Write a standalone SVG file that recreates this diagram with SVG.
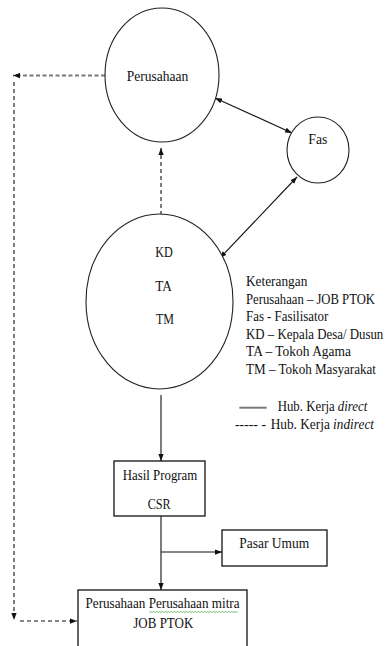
<svg xmlns="http://www.w3.org/2000/svg" width="386" height="646" viewBox="0 0 386 646" font-family="'Liberation Serif', 'DejaVu Serif', 'Times New Roman', serif">
<style>
text{font-family:'Liberation Serif','DejaVu Serif','Times New Roman',serif;font-size:14px;fill:#111}
.node{fill:#fff;stroke:#222;stroke-width:1.1}
.box{fill:#fff;stroke:#111;stroke-width:1.3}
.c{stroke:#111;stroke-width:1.1;fill:none}
.d{stroke:#111;stroke-width:1.1;fill:none;stroke-dasharray:4 3}
.g{stroke:#7a7a7a;stroke-width:2;fill:none;stroke-dasharray:4 2.5}
</style>
<defs>
<marker id="ah" viewBox="0 0 8 6" refX="8" refY="3" markerWidth="7" markerHeight="6" markerUnits="userSpaceOnUse" orient="auto-start-reverse">
<path d="M0,0 L8,3 L0,6 Z" fill="#111"/>
</marker>
</defs>
<g id="connectors">
<line class="c" x1="215" y1="98" x2="292" y2="133" marker-start="url(#ah)" marker-end="url(#ah)"/>
<line class="c" x1="297" y1="177" x2="220" y2="258" marker-start="url(#ah)" marker-end="url(#ah)"/>
<line class="d" x1="161" y1="148" x2="161" y2="225" marker-start="url(#ah)" marker-end="url(#ah)"/>
<line class="g" x1="105" y1="75.5" x2="13" y2="75.5" marker-end="url(#ah)"/>
<line class="d" x1="14" y1="82" x2="14" y2="620" marker-end="url(#ah)"/>
<line class="d" x1="20" y1="621" x2="77" y2="621" marker-end="url(#ah)"/>
<line class="c" x1="161" y1="395" x2="161" y2="461" marker-end="url(#ah)"/>
<line class="c" x1="161" y1="516" x2="161" y2="590" marker-end="url(#ah)"/>
<line class="c" x1="161" y1="552" x2="222" y2="552" marker-end="url(#ah)"/>
</g>
<g id="perusahaan">
<ellipse class="node" cx="162" cy="75" rx="57" ry="67"/>
<text x="126.7" y="81" textLength="61.6" lengthAdjust="spacingAndGlyphs">Perusahaan</text>
</g>
<g id="fas">
<ellipse class="node" cx="318" cy="150" rx="31" ry="33"/>
<text x="308.3" y="144" textLength="19" lengthAdjust="spacingAndGlyphs">Fas</text>
</g>
<g id="kd-ta-tm">
<ellipse class="node" cx="159.5" cy="301.5" rx="73.5" ry="87.5"/>
<text x="155.3" y="257" textLength="17.5" lengthAdjust="spacingAndGlyphs">KD</text>
<text x="155.3" y="291" textLength="16.7" lengthAdjust="spacingAndGlyphs">TA</text>
<text x="156" y="324" textLength="18" lengthAdjust="spacingAndGlyphs">TM</text>
</g>
<g id="legend">
<text x="246" y="286" textLength="61.3" lengthAdjust="spacingAndGlyphs">Keterangan</text>
<text x="246" y="303.5" textLength="129" lengthAdjust="spacingAndGlyphs">Perusahaan – JOB PTOK</text>
<text x="246" y="321" textLength="82.3" lengthAdjust="spacingAndGlyphs">Fas - Fasilisator</text>
<text x="246" y="338.5" textLength="137.3" lengthAdjust="spacingAndGlyphs">KD – Kepala Desa/ Dusun</text>
<text x="246" y="356" textLength="105" lengthAdjust="spacingAndGlyphs">TA – Tokoh Agama</text>
<text x="246" y="373.5" textLength="130" lengthAdjust="spacingAndGlyphs">TM – Tokoh Masyarakat</text>
<line x1="239.3" y1="407.7" x2="266.7" y2="407.7" stroke="#7a7a7a" stroke-width="2"/>
<text x="277.7" y="411" textLength="89.6" lengthAdjust="spacingAndGlyphs">Hub. Kerja <tspan font-style="italic">direct</tspan></text>
<text x="235" y="428.5" textLength="31" lengthAdjust="spacingAndGlyphs">----- -</text>
<text x="270.7" y="428.5" textLength="103.3" lengthAdjust="spacingAndGlyphs">Hub. Kerja <tspan font-style="italic">indirect</tspan></text>
</g>
<g id="hasil-program">
<rect class="box" x="114" y="461" width="91" height="55"/>
<text x="122.7" y="480" textLength="74.6" lengthAdjust="spacingAndGlyphs">Hasil Program</text>
<text x="147.7" y="509" textLength="23" lengthAdjust="spacingAndGlyphs">CSR</text>
</g>
<g id="pasar-umum">
<rect class="box" x="222" y="530" width="105" height="36"/>
<text x="239.3" y="548" textLength="70" lengthAdjust="spacingAndGlyphs">Pasar Umum</text>
</g>
<g id="perusahaan-mitra">
<rect class="box" x="78" y="590" width="169" height="70"/>
<text x="85.5" y="607.5" textLength="154" lengthAdjust="spacingAndGlyphs">Perusahaan Perusahaan mitra</text>
<path d="M149,612.5 l1.5,-1 l1.5,1 l1.5,-1 l1.5,1 l1.5,-1 l1.5,1 l1.5,-1 l1.5,1 l1.5,-1 l1.5,1 l1.5,-1 l1.5,1 l1.5,-1 l1.5,1 l1.5,-1 l1.5,1 l1.5,-1 l1.5,1 l1.5,-1 l1.5,1 l1.5,-1 l1.5,1 l1.5,-1 l1.5,1 l1.5,-1 l1.5,1 l1.5,-1 l1.5,1 l1.5,-1 l1.5,1 l1.5,-1 l1.5,1 l1.5,-1 l1.5,1 l1.5,-1 l1.5,1 l1.5,-1 l1.5,1 l1.5,-1 l1.5,1 l1.5,-1 l1.5,1 l1.5,-1 l1.5,1 l1.5,-1 l1.5,1 l1.5,-1 l1.5,1 l1.5,-1 l1.5,1 l1.5,-1 l1.5,1 l1.5,-1 l1.5,1 l1.5,-1 l1.5,1 l1.5,-1 l1.5,1 l1.5,-1" fill="none" stroke="#4caf50" stroke-width="0.8"/>
<text x="133.3" y="628" textLength="60" lengthAdjust="spacingAndGlyphs">JOB PTOK</text>
</g>
</svg>
